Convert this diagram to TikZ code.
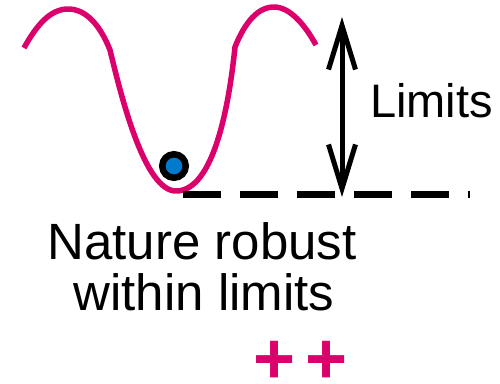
\documentclass[tikz,border=0pt]{standalone}
\usepackage{fontspec}
\setmainfont{Liberation Sans}
\usetikzlibrary{arrows.meta}
\definecolor{rubine}{RGB}{220,0,108}
\definecolor{ballblue}{RGB}{0,122,204}
\tikzset{
  wave/.style={draw=rubine, line width=5.5pt, line join=round},
  limitarrow/.style={line width=5pt, {Straight Barb[length=44pt,width=27pt]}-{Straight Barb[length=44pt,width=27pt]}},
  baseline line/.style={line width=7pt, dash pattern=on 38pt off 19pt},
  ball/.style={circle, minimum size=23.5pt, inner sep=0pt, fill=ballblue, draw=black, line width=6.5pt},
  bigtext/.style={font=\fontsize{51}{51}\selectfont, inner sep=0pt, anchor=base},
  plusmark/.style={font=\fontsize{72}{72}\selectfont\bfseries, text=rubine, inner sep=0pt, anchor=base}
}
\begin{document}
\begin{tikzpicture}[x=1pt,y=-1pt]
\useasboundingbox (0,0) rectangle (500,383);
% wave
\draw[wave] (24,48) .. controls (36,26) and (50,9) .. (68,9)
  .. controls (86,9) and (100,25) .. (110,50)
  .. controls (122,100) and (145,191) .. (176,191)
  .. controls (214,191) and (229,105) .. (235,47)
  .. controls (245,22) and (258,7) .. (274,7)
  .. controls (290,7) and (305,25) .. (316,45);
% ball
\node[ball] (ball) at (174,166) {};
% dashed baseline
\coordinate (dashstart) at (183,194);
\coordinate (dashend) at (470,194);
\draw[baseline line] (dashstart) -- (dashend);
% limits arrow
\coordinate (top) at (342,17);
\coordinate (bot) at (342,197);
\draw[limitarrow] (top) -- (bot);
\node[font=\fontsize{47}{47}\selectfont, inner sep=0pt, anchor=base west] (limits) at (370,117) {Limits};
% caption
\node[bigtext] (line1) at (202,259) {Nature robust};
\node[bigtext] (line2) at (204,310) {within limits};
% plus signs
\node[plusmark] (plus1) at (274.5,383) {+};
\node[plusmark] (plus2) at (327,383) {+};
\end{tikzpicture}
\end{document}
